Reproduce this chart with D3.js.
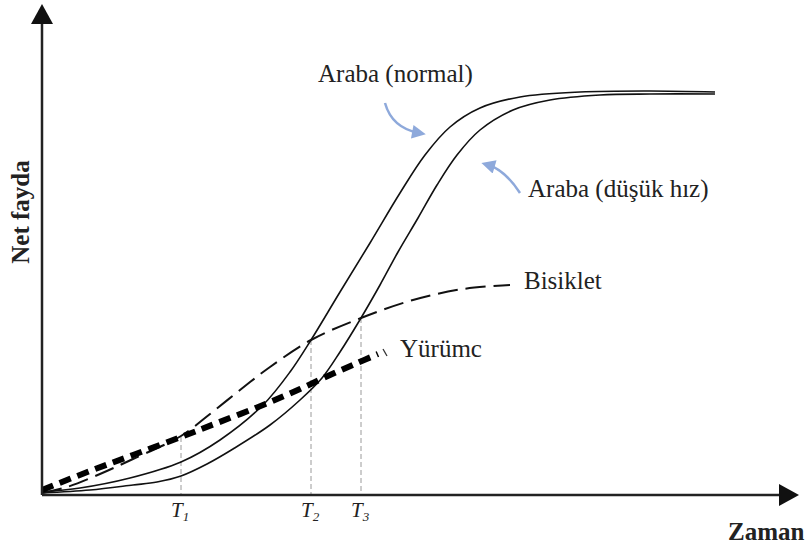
<!DOCTYPE html>
<html><head><meta charset="utf-8">
<script src="https://cdn.jsdelivr.net/npm/d3@7"></script>
<style>body{margin:0;background:#fff}svg{display:block}text{font-family:"Liberation Serif","Times New Roman",serif;fill:#222}</style>
</head><body><svg id="c" width="806" height="551"></svg>
<script>
// Data (time 0..73.8, net benefit 0..49.1, arbitrary units)
const seriesNames = ["Araba (normal)", "Araba (düşük hız)", "Bisiklet", "Yürümc"];
const carNormalT = [0, 3.8, 8.8, 13.9, 17.8, 22.1, 24.8, 26.9, 29.8, 32.8, 35.8, 38.3, 40.8, 43.8, 47.8, 53.8, 60.8, 67.3];
const carNormalV = [0.3, 0.7, 1.7, 3.3, 5.5, 9.0, 12.3, 15.5, 20.3, 25.2, 30.2, 34.0, 36.8, 38.7, 39.8, 40.3, 40.4, 40.3];
const carLowT = [0, 4.8, 9.1, 11.5, 13.9, 16.5, 19.1, 22.8, 25.8, 28.0, 29.8, 31.9, 33.8, 35.6, 37.6, 39.5, 41.5, 43.8, 47.1, 50.8, 55.8, 60.8, 67.3];
const carLowV = [0.2, 0.5, 1.0, 1.3, 1.9, 3.1, 4.6, 7.0, 9.5, 11.7, 14.3, 17.7, 21.0, 24.3, 27.7, 31.0, 34.0, 36.5, 38.5, 39.5, 40.0, 40.1, 40.1];
const bikeT = [0, 2.5, 5.8, 9.1, 13.9, 16.8, 19.8, 22.8, 26.9, 31.9, 37.1, 42.1, 46.8];
const bikeV = [0.2, 0.8, 2.1, 3.6, 5.9, 8.1, 10.5, 12.8, 15.5, 17.7, 19.5, 20.6, 21.0];
const walkT = [0, 4.8, 9.1, 13.9, 17.5, 22.1, 25.8, 28.8, 31.3, 33.6];
const walkV = [0.5, 2.4, 4.0, 5.8, 7.2, 9.0, 10.6, 12.0, 13.1, 14.1];
const markLabels = ["1", "2", "3"];
const markT = [13.9, 26.9, 31.9];
const markV = [5.8, 15.5, 17.7];
const axisLabels = ["Zaman", "Net fayda"];

const svg = d3.select("#c");
const x = d3.scaleLinear().domain([0, 73.8]).range([42, 780]);
const y = d3.scaleLinear().domain([0, 49.1]).range([495, 4]);
const zip = (a, b) => a.map((t, i) => [t, b[i]]);
const line = d3.line().x(d => x(d[0])).y(d => y(d[1])).curve(d3.curveCatmullRom.alpha(0.5));

// T marker dashed verticals
markT.forEach((t, i) => {
  svg.append("line").attr("x1", x(t)).attr("x2", x(t)).attr("y1", y(markV[i])).attr("y2", y(0))
    .attr("stroke", "#9a9a9a").attr("stroke-width", 1).attr("stroke-dasharray", "5,3");
  const g = svg.append("text").attr("x", x(t) - 10).attr("y", 517).attr("font-size", 21).attr("font-style", "italic");
  g.append("tspan").text("T");
  g.append("tspan").attr("font-size", 13).attr("dy", 4).text(markLabels[i]);
});

// Curves
svg.append("path").attr("d", line(zip(carNormalT, carNormalV))).attr("fill", "none").attr("stroke", "#111").attr("stroke-width", 1.6);
svg.append("path").attr("d", line(zip(carLowT, carLowV))).attr("fill", "none").attr("stroke", "#111").attr("stroke-width", 1.6);
svg.append("path").attr("d", line(zip(bikeT, bikeV))).attr("fill", "none").attr("stroke", "#111").attr("stroke-width", 2).attr("stroke-dasharray", "20,8");
svg.append("path").attr("d", line(zip(walkT, walkV))).attr("fill", "none").attr("stroke", "#000").attr("stroke-width", 6).attr("stroke-dasharray", "12,7");
// small tail mark after walking line
svg.append("line").attr("x1", x(34.1)).attr("y1", y(14.6)).attr("x2", x(34.5)).attr("y2", y(13.9)).attr("stroke", "#333").attr("stroke-width", 1.3);

// Axes
const ax = svg.append("g").attr("stroke", "#222").attr("stroke-width", 2.5);
ax.append("line").attr("x1", x(0)).attr("y1", y(0)).attr("x2", x(73.8)).attr("y2", y(0));
ax.append("line").attr("x1", x(0)).attr("y1", y(0)).attr("x2", x(0)).attr("y2", y(47.3));
svg.append("path").attr("fill", "#111")
  .attr("d", `M${x(73.8) + 19},${y(0)} L${x(73.8) - 1},${y(0) - 11} L${x(73.8) - 1},${y(0) + 11} Z`);
svg.append("path").attr("fill", "#111")
  .attr("d", `M${x(0)},${y(49.1)} L${x(0) - 11},${y(49.1) + 20} L${x(0) + 11},${y(49.1) + 20} Z`);

// Axis labels
svg.append("text").attr("x", 728).attr("y", 540).attr("font-size", 25).attr("font-weight", "bold").text(axisLabels[0]);
svg.append("text").attr("transform", "translate(29,212) rotate(-90)").attr("text-anchor", "middle")
  .attr("font-size", 25).attr("font-weight", "bold").text(axisLabels[1]);

// Series labels
const lab = (s, px, py) => svg.append("text").attr("x", px).attr("y", py).attr("font-size", 25).text(s);
lab(seriesNames[0], 318, 82);
lab(seriesNames[1], 528, 197);
lab(seriesNames[2], 524, 289);
lab(seriesNames[3], 400, 357);

// Blue annotation arrows
const blue = "#8EA9DB";
svg.append("defs").append("marker").attr("id", "ah").attr("viewBox", "0 0 10 10").attr("refX", 5).attr("refY", 5)
  .attr("markerWidth", 6).attr("markerHeight", 5.5).attr("orient", "auto")
  .append("path").attr("d", "M0,0 L10,5 L0,10 Z").attr("fill", blue);
const qa = (p0, c, p1) => `M${x(p0[0])},${y(p0[1])} Q${x(c[0])},${y(c[1])} ${x(p1[0])},${y(p1[1])}`;
svg.append("path").attr("d", qa([34.3, 39.2], [35.0, 36.7], [37.7, 36.2])).attr("fill", "none")
  .attr("stroke", blue).attr("stroke-width", 2.5).attr("marker-end", "url(#ah)");
svg.append("path").attr("d", qa([47.8, 30.2], [46.3, 32.5], [44.6, 33.0])).attr("fill", "none")
  .attr("stroke", blue).attr("stroke-width", 2.5).attr("marker-end", "url(#ah)");
</script></body></html>
